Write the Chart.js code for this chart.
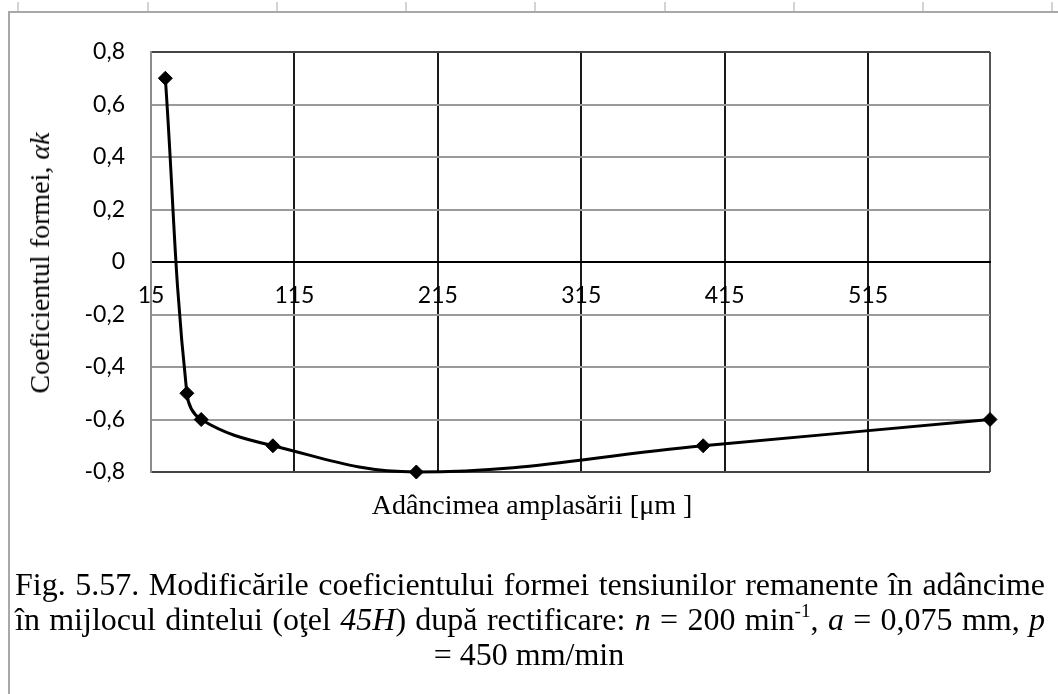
<!DOCTYPE html>
<html lang="ro">
<head>
    <meta charset="UTF-8">
    <title>Coeficientul formei</title>
    <style>
        body {
            margin: 0;
            background-color: #fff;
        }

        #page {
            position: relative;
            width: 1058px;
            height: 694px;
            overflow: hidden;
            font-family: "Liberation Serif", "Times New Roman", serif;
            color: #000;
        }

        #potGraph {
            position: absolute;
            left: 0;
            top: 0;
        }

        .frame-top { position: absolute; left: 8px; right: 0; top: 11px; border-top: 2px solid #a8a8a8; }
        .frame-left { position: absolute; left: 8px; top: 11px; bottom: 0; border-left: 2px solid #a8a8a8; }
        .mark { position: absolute; top: 2px; height: 9px; border-left: 2px solid #d4d4d4; }

        .ytitle {
            position: absolute;
            left: 40px;
            top: 263px;
            transform: translate(-50%, -50%) rotate(-90deg);
            white-space: nowrap;
            font-size: 28px;
        }

        .xtitle {
            position: absolute;
            left: 532px;
            top: 505px;
            transform: translate(-50%, -50%);
            white-space: nowrap;
            font-size: 28px;
        }

        .cap {
            position: absolute;
            font-size: 32px;
            line-height: 35px;
            white-space: nowrap;
        }
        .cap.l1, .cap.l2 { left: 15px; width: 1030px; text-align: justify; text-align-last: justify; }
        .cap.l1 { top: 567px; }
        .cap.l2 { top: 602px; }
        .cap.l3 { left: 0; width: 1058px; top: 637px; text-align: center; }
        sup { font-size: 0.6em; line-height: 0; vertical-align: 0.7em; }
    </style>
    <script src="https://cdn.jsdelivr.net/npm/chart.js"></script>
</head>
<body>
<div id="page">
    <div class="frame-top"></div>
    <div class="frame-left"></div>
    <div class="mark" style="left:17px"></div>
    <div class="mark" style="left:147px"></div>
    <div class="mark" style="left:276px"></div>
    <div class="mark" style="left:405px"></div>
    <div class="mark" style="left:534px"></div>
    <div class="mark" style="left:664px"></div>
    <div class="mark" style="left:793px"></div>
    <div class="mark" style="left:922px"></div>
    <div class="mark" style="left:1051px"></div>

    <canvas id="potGraph" width="1058" height="694"></canvas>

    <div class="ytitle">Coeficientul formei, <i>αk</i></div>
    <div class="xtitle">Adâncimea amplasării [μm ]</div>

    <div class="cap l1">Fig. 5.57. Modificările coeficientului formei tensiunilor remanente în adâncime</div>
    <div class="cap l2">în mijlocul dintelui (oţel <i>45H</i>) după rectificare: <i>n</i> = 200 min<sup>-1</sup>, <i>a</i> = 0,075 mm, <i>p</i></div>
    <div class="cap l3">= 450 mm/min</div>
</div>

<script>
    // depth [µm] and form coefficient
    const depth = [25, 40, 50, 100, 200, 400, 600];
    const coefK = [0.7, -0.5, -0.6, -0.7, -0.8, -0.7, -0.6];

    const xTicks = [15, 115, 215, 315, 415, 515];
    const yTicks = [-0.8, -0.6, -0.4, -0.2, 0, 0.2, 0.4, 0.6, 0.8];
    const xMin = 15, xMax = 600;
    const yMin = -0.8, yMax = 0.8;

    const tickFont = { family: 'Lato', size: 23 };

    const ctx = document.getElementById('potGraph').getContext('2d');
    new Chart(ctx, {
        type: 'line',
        data: {
            datasets: [{
                data: depth.map((x, i) => ({ x: x, y: coefK[i] })),
                borderColor: '#000',
                borderWidth: 3,
                tension: 0.4,
                fill: false,
                clip: false,
                pointStyle: 'rectRot',
                pointRadius: 7,
                pointBackgroundColor: '#000',
                pointBorderColor: '#000',
                pointBorderWidth: 1
            }]
        },
        options: {
            responsive: false,
            animation: false,
            layout: { padding: { left: 0, top: 52, right: 68, bottom: 222 } },
            scales: {
                x: {
                    type: 'linear',
                    min: xMin,
                    max: xMax,
                    position: { y: 0 },
                    afterBuildTicks: s => { s.ticks = xTicks.concat([xMax]).map(v => ({ value: v })); },
                    ticks: {
                        callback: v => xTicks.includes(v) ? String(v) : '',
                        font: tickFont,
                        color: '#000',
                        padding: 20,
                        maxRotation: 0,
                        autoSkip: false
                    },
                    grid: {
                        drawTicks: false,
                        lineWidth: 2,
                        color: c => {
                            const v = c.tick ? c.tick.value : null;
                            if (v === xMin) return '#8c8c8c';
                            if (v === xMax) return '#555';
                            return '#1a1a1a';
                        }
                    },
                    border: { color: '#000', width: 2 }
                },
                y: {
                    min: yMin,
                    max: yMax,
                    afterBuildTicks: s => { s.ticks = yTicks.map(v => ({ value: v })); },
                    afterFit: s => { s.width = 151; },
                    ticks: {
                        callback: v => v === 0 ? '0' : v.toFixed(1).replace('.', ','),
                        font: tickFont,
                        color: '#000',
                        padding: 26
                    },
                    grid: {
                        drawTicks: false,
                        lineWidth: 2,
                        color: c => {
                            const v = c.tick ? c.tick.value : null;
                            if (v === 0) return '#000';
                            if (v === yMax || v === yMin) return '#444';
                            return '#9a9a9a';
                        }
                    },
                    border: { color: '#8c8c8c', width: 2 }
                }
            },
            plugins: {
                legend: { display: false },
                tooltip: { enabled: false }
            }
        }
    });
</script>
</body>
</html>
